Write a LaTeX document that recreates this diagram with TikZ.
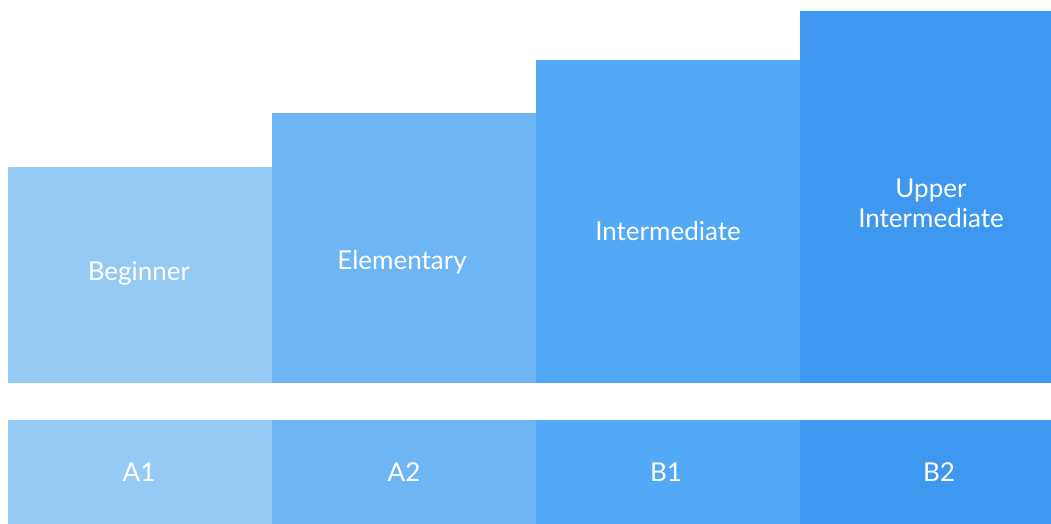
\documentclass[tikz,border=0pt]{standalone}
\usepackage{fontspec}
\setmainfont{Lato}
\definecolor{cA}{RGB}{148,202,243}
\definecolor{cB}{RGB}{109,181,243}
\definecolor{cC}{RGB}{83,169,245}
\definecolor{cD}{RGB}{62,152,240}
\begin{document}
\begin{tikzpicture}[x=1pt,y=-1pt,
  bar/.style={draw=none,inner sep=0pt,outer sep=0pt,anchor=north west},
  lbl/.style={text=white,font=\fontsize{26}{30}\selectfont,align=center,inner sep=0pt}]
\useasboundingbox (0,0) rectangle (1051,524);
% level bars
\node[bar,fill=cA,minimum width=264pt,minimum height=216pt] (b1) at (8,167) {};
\node[bar,fill=cB,minimum width=264pt,minimum height=270pt] (b2) at (272,113) {};
\node[bar,fill=cC,minimum width=264pt,minimum height=323pt] (b3) at (536,60) {};
\node[bar,fill=cD,minimum width=251pt,minimum height=372pt] (b4) at (800,11) {};
% code bars
\node[bar,fill=cA,minimum width=264pt,minimum height=104pt] (c1) at (8,420) {};
\node[bar,fill=cB,minimum width=264pt,minimum height=104pt] (c2) at (272,420) {};
\node[bar,fill=cC,minimum width=264pt,minimum height=104pt] (c3) at (536,420) {};
\node[bar,fill=cD,minimum width=251pt,minimum height=104pt] (c4) at (800,420) {};
% labels
\node[lbl] (t1) at (139,273) {Beginner};
\node[lbl] (t2) at (402,262) {Elementary};
\node[lbl] (t3) at (668,231) {Intermediate};
\node[lbl] (t4) at (931,203) {Upper\\Intermediate};
\node[lbl] (k1) at (139,472) {A1};
\node[lbl] (k2) at (404,472) {A2};
\node[lbl] (k3) at (666,472) {B1};
\node[lbl] (k4) at (939,472) {B2};
\end{tikzpicture}
\end{document}
